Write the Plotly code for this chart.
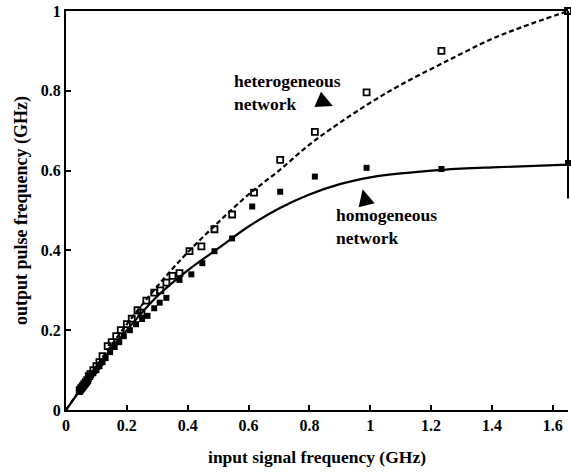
import plotly.graph_objects as go

# measured points (GHz)
het_x = [0.045, 0.05, 0.055, 0.06, 0.065, 0.07, 0.075, 0.08, 0.09, 0.1, 0.11, 0.12, 0.137, 0.15,
         0.165, 0.18, 0.2, 0.216, 0.235, 0.248, 0.264, 0.29, 0.31, 0.33, 0.35, 0.373, 0.406,
         0.445, 0.488, 0.546, 0.618, 0.704, 0.818, 0.988, 1.234, 1.65]
het_y = [0.05, 0.055, 0.06, 0.065, 0.07, 0.075, 0.085, 0.09, 0.1, 0.11, 0.12, 0.135, 0.16, 0.17,
         0.185, 0.2, 0.215, 0.229, 0.25, 0.244, 0.274, 0.294, 0.3, 0.319, 0.336, 0.343, 0.398,
         0.41, 0.453, 0.49, 0.545, 0.627, 0.697, 0.796, 0.9, 1.0]

hom_x = [0.045, 0.05, 0.055, 0.06, 0.065, 0.07, 0.075, 0.08, 0.09, 0.1, 0.11, 0.12, 0.13, 0.145,
         0.16, 0.175, 0.19, 0.21, 0.23, 0.25, 0.268, 0.29, 0.308, 0.33, 0.373, 0.412, 0.448,
         0.488, 0.546, 0.612, 0.704, 0.818, 0.988, 1.234, 1.65]
hom_y = [0.045, 0.05, 0.055, 0.06, 0.065, 0.07, 0.078, 0.083, 0.092, 0.1, 0.11, 0.12, 0.13, 0.145,
         0.158, 0.17, 0.185, 0.2, 0.215, 0.228, 0.236, 0.255, 0.269, 0.281, 0.326, 0.34, 0.368,
         0.398, 0.43, 0.51, 0.547, 0.585, 0.607, 0.604, 0.619]

# fitted curves
hetfit_x = [0, 0.1, 0.2, 0.3, 0.4, 0.5, 0.6, 0.7, 0.8, 0.9, 1.0, 1.1, 1.24, 1.4, 1.5, 1.65]
hetfit_y = [0, 0.11, 0.215, 0.31, 0.395, 0.47, 0.54, 0.6, 0.665, 0.72, 0.77, 0.815, 0.87, 0.93, 0.96, 1.0]
homfit_x = [0, 0.1, 0.2, 0.3, 0.4, 0.5, 0.6, 0.7, 0.8, 0.9, 1.0, 1.1, 1.24, 1.4, 1.65]
homfit_y = [0, 0.105, 0.2, 0.285, 0.35, 0.405, 0.46, 0.505, 0.54, 0.566, 0.583, 0.593, 0.602, 0.608, 0.615]

x_ticks = [0, 0.2, 0.4, 0.6, 0.8, 1, 1.2, 1.4, 1.6]
x_labels = ["0", "0.2", "0.4", "0.6", "0.8", "1", "1.2", "1.4", "1.6"]
y_ticks = [0, 0.2, 0.4, 0.6, 0.8, 1]
y_labels = ["0", "0.2", "0.4", "0.6", "0.8", "1"]

FONT = "Liberation Serif"

fig = go.Figure()
fig.add_trace(go.Scatter(x=hetfit_x, y=hetfit_y, mode="lines", line=dict(color="black", width=2.2, dash="5px,3px", shape="spline"), showlegend=False))
fig.add_trace(go.Scatter(x=homfit_x, y=homfit_y, mode="lines", line=dict(color="black", width=2.2, shape="spline"), showlegend=False))
fig.add_trace(go.Scatter(x=het_x, y=het_y, mode="markers", marker=dict(symbol="square-open", size=6, color="black", line=dict(width=1.8)), showlegend=False, cliponaxis=False))
fig.add_trace(go.Scatter(x=hom_x, y=hom_y, mode="markers", marker=dict(symbol="square", size=6, color="black"), showlegend=False, cliponaxis=False))

ann_font = dict(family=FONT, size=17.5, color="black", weight="bold")
fig.add_annotation(x=0.545, y=0.855, xref="x", yref="y", text="heterogeneous<br>network", showarrow=False,
                   xanchor="left", yanchor="top", align="left", font=ann_font)
fig.add_annotation(x=0.877, y=0.762, ax=-16, ay=-7, xref="x", yref="y", text="", showarrow=True,
                   arrowhead=2, arrowsize=2.2, arrowwidth=1.5, arrowcolor="black")
fig.add_annotation(x=0.88, y=0.52, xref="x", yref="y", text="homogeneous<br>network", showarrow=False,
                   xanchor="left", yanchor="top", align="left", font=ann_font)
fig.add_annotation(x=0.975, y=0.553, ax=4, ay=16, xref="x", yref="y", text="", showarrow=True,
                   arrowhead=2, arrowsize=2.2, arrowwidth=1.5, arrowcolor="black")

# partial right border
fig.add_shape(type="line", xref="paper", yref="paper", x0=1, x1=1, y0=0.53, y1=1, line=dict(color="black", width=2))

tick_font = dict(family=FONT, size=16, color="black", weight="bold")
fig.update_layout(
    width=571, height=472,
    margin=dict(l=66, r=3, t=8, b=62),
    plot_bgcolor="white", paper_bgcolor="white",
    xaxis=dict(range=[0, 1.65], tickvals=x_ticks, ticktext=x_labels, ticks="inside", ticklen=5, tickwidth=2,
               tickcolor="black", showline=True, linecolor="black", linewidth=2, mirror=True, showgrid=False,
               zeroline=False, tickfont=tick_font, ticklabeloverflow="allow",
               title=dict(text="input signal frequency (GHz)", font=dict(family=FONT, size=17.5, color="black", weight="bold"), standoff=18)),
    yaxis=dict(range=[0, 1], tickvals=y_ticks, ticktext=y_labels, ticks="inside", ticklen=5, tickwidth=2,
               tickcolor="black", showline=True, linecolor="black", linewidth=2, mirror=False, showgrid=False,
               zeroline=False, tickfont=tick_font, ticklabeloverflow="allow",
               title=dict(text="output pulse frequency (GHz)", font=dict(family=FONT, size=18, color="black", weight="bold"), standoff=8)),
)

fig.write_html("out.html")
